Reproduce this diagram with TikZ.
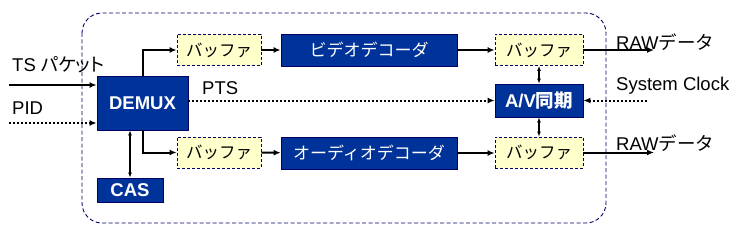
\documentclass[tikz,border=0pt]{standalone}
\usepackage{fontspec}
\setmainfont{Liberation Sans}
\newfontfamily\jp{Noto Sans CJK JP}
\newfontfamily\jpp[RawFeature=+palt]{Noto Sans CJK JP}
\usetikzlibrary{arrows.meta,positioning}
\definecolor{boxblue}{HTML}{003399}
\definecolor{navy}{HTML}{000066}
\definecolor{bufyellow}{HTML}{FFFFCC}
\tikzset{
  bluebox/.style={draw=navy,fill=boxblue,text=white,line width=0.8pt,inner sep=0pt,font=\bfseries\fontsize{18.5}{20}\selectfont},
  decbox/.style={draw=navy,fill=boxblue,text=white,line width=0.8pt,inner sep=0pt,minimum width=176pt,minimum height=32pt,font=\jp\fontsize{17}{19}\selectfont},
  bufbox/.style={draw=navy,fill=bufyellow,dashed,dash pattern=on 3pt off 2pt,line width=0.8pt,inner sep=0pt,minimum width=86pt,minimum height=31pt,font=\jp\fontsize{16.5}{18}\selectfont},
  lbl/.style={anchor=west,inner sep=0pt,font=\fontsize{18.5}{20}\selectfont},
  flow/.style={line width=2pt,-{Latex[length=7pt,width=6pt]}},
  dotflow/.style={line width=2pt,dash pattern=on 2pt off 2pt,-{Latex[length=7pt,width=6pt]}},
  sync/.style={line width=1.2pt,{Latex[length=5pt,width=4pt]}-{Latex[length=5pt,width=4pt]}},
}
\begin{document}
\begin{tikzpicture}[x=1pt,y=-1pt]
\useasboundingbox (0,0) rectangle (743,238);
% container
\draw[navy,line width=0.9pt,dash pattern=on 4pt off 2.5pt,rounded corners=20pt] (82,13) rectangle (606,223);
% nodes
\node[bluebox,minimum width=91pt,minimum height=54pt] (demux) at (142.5,103) {DEMUX};
\node[bluebox,minimum width=66pt,minimum height=24pt] (cas) at (130,190) {CAS};
\node[bufbox,minimum width=84pt] (buf1) at (219,50) {バッファ};
\node[decbox] (vdec) at (369,50) {ビデオデコーダ};
\node[bufbox,minimum width=88pt] (buf2) at (539,50) {バッファ};
\node[bluebox,minimum width=88pt,minimum height=33pt] (av) at (539,100.5) {A/V{\jp 同期}};
\node[bufbox,minimum width=88pt] (buf3) at (539,152.5) {バッファ};
\node[bufbox,minimum width=84pt] (buf4) at (219,152.5) {バッファ};
\node[decbox] (adec) at (369,153) {オーディオデコーダ};
% free ends
\coordinate (tsin) at (9,85);
\coordinate (pidin) at (9,123);
\coordinate (clk) at (647,100.5);
\coordinate (rawv) at (654,50);
\coordinate (rawa) at (654,152.5);
% labels
\node[lbl] (tslbl) at (12,65) {TS {\jpp パケット}};
\node[lbl] (pidlbl) at (12,108) {PID};
\node[lbl] (ptslbl) at (202,88) {PTS};
\node[lbl] (raw1) at (616,42) {RAW{\jp データ}};
\node[lbl] (raw2) at (616,143) {RAW{\jp データ}};
\node[lbl] (clklbl) at (616,86) {System Clock};
% connectors
\draw[flow] (tsin) -- (tsin -| demux.west);
\draw[dotflow] (pidin) -- (pidin -| demux.west);
\draw[flow] (demux.north) |- (buf1.west);
\draw[flow] (demux.south) |- (buf4.west);
\draw[sync] (cas.north) -- (cas.north |- demux.south);
\draw[dotflow] (demux.east |- av.west) -- (av.west);
\draw[flow] (buf1) -- (vdec);
\draw[flow] (vdec) -- (buf2);
\draw[flow] (buf4) -- (adec);
\draw[flow] (adec.east) -- (adec.east -| buf3.west);
\draw[sync] (buf2) -- (av);
\draw[sync] (av) -- (buf3);
\draw[dotflow] (clk) -- (av.east);
\draw[flow] (buf2.east) -- (rawv);
\draw[flow] (buf3.east) -- (rawa);
\end{tikzpicture}
\end{document}
